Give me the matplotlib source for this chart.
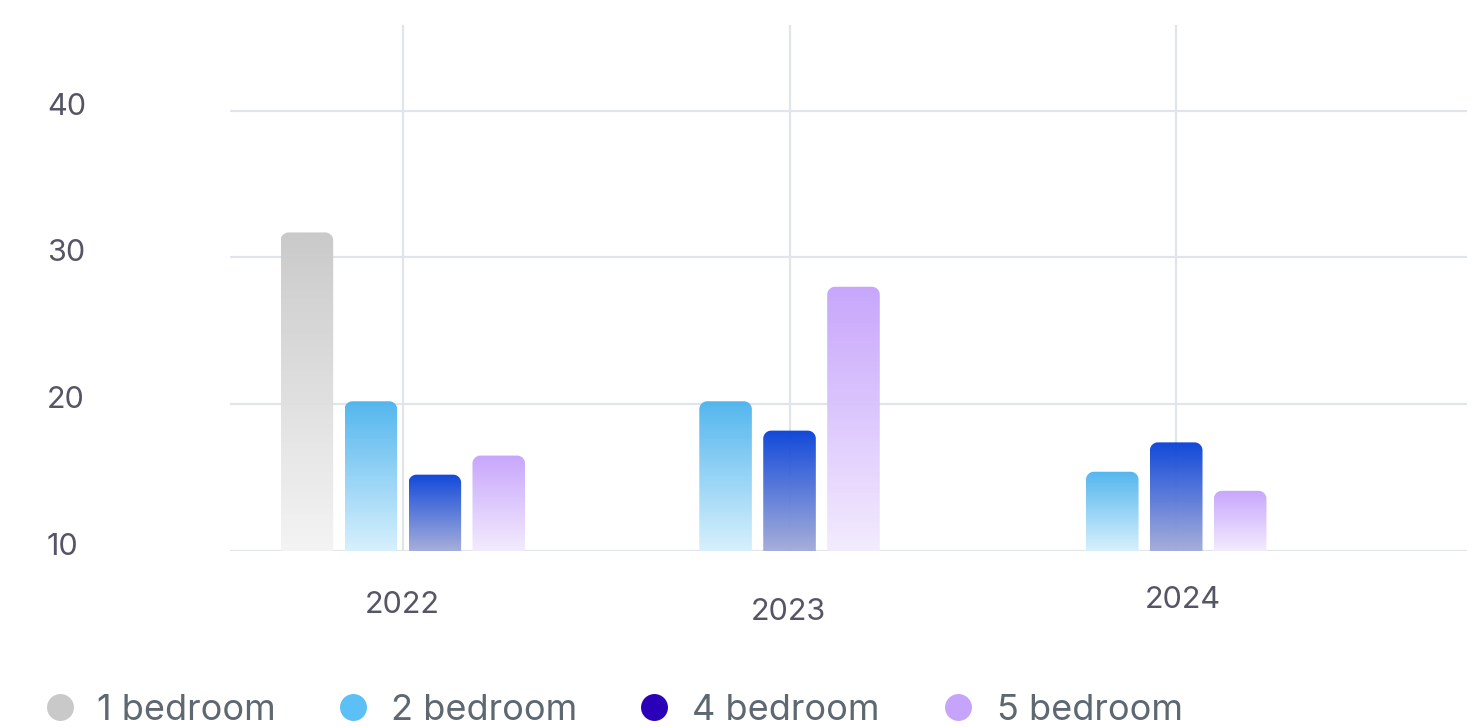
import numpy as np
import matplotlib
matplotlib.use("Agg")
import matplotlib.pyplot as plt
from matplotlib.path import Path
from matplotlib.patches import PathPatch
from matplotlib.transforms import offset_copy, blended_transform_factory
from matplotlib.colors import to_rgb

# ---------------- data ----------------
years = ["2022", "2023", "2024"]
series = ["1 bedroom", "2 bedroom", "4 bedroom", "5 bedroom"]
one_bedroom = [31.7, None, None]
two_bedroom = [20.2, 20.2, 15.4]
four_bedroom = [15.2, 18.2, 17.4]
five_bedroom = [16.5, 28.0, 14.1]
y_ticks = [10, 20, 30, 40]

values = [one_bedroom, two_bedroom, four_bedroom, five_bedroom]

# ---------------- style ----------------
legend_colors = ["#c9c9c9", "#5cbff5", "#2b00b9", "#c7a4fb"]
grad_top = ["#c8c8c8", "#4cb3ee", "#0741d8", "#c5a2fc"]
grad_bottom = ["#f4f4f4", "#d6f0fd", "#a3abd9", "#f3ebfe"]
label_color = "#555566"
legend_text_color = "#5d6870"
FONT = ["Inter", "DejaVu Sans"]

W, H = 1481, 727
fig = plt.figure(figsize=(W / 100, H / 100), dpi=100)
ax = fig.add_axes([230 / W, 1 - 551 / H, 1237 / W, 526 / H])
ax.set_xlim(-0.447, 2.752)
ax.set_ylim(10, 45.83)
for s in ax.spines.values():
    s.set_visible(False)
ax.set_xticks(range(len(years)))
ax.set_yticks(y_ticks)
ax.tick_params(length=0, labelleft=False, labelbottom=False)
ax.set_axisbelow(True)
ax.grid(True, color="#e1e4e8", linewidth=1.6)

bar_w = 0.136
step = 0.1654
px_x = 387.0      # pixels per x unit
px_y = 526 / (45.83 - 10)  # pixels per y unit
rx = 8 / px_x
ry = 8 / px_y
base = 10


def rounded_top_path(x0, x1, y0, y1):
    r_y = min(ry, (y1 - y0) / 2)
    pts = [(x0, y0)]
    t = np.linspace(np.pi, np.pi / 2, 12)
    cx, cy = x0 + rx, y1 - r_y
    pts += list(zip(cx + rx * np.cos(t), cy + r_y * np.sin(t)))
    t = np.linspace(np.pi / 2, 0, 12)
    cx = x1 - rx
    pts += list(zip(cx + rx * np.cos(t), cy + r_y * np.sin(t)))
    pts += [(x1, y0), (x0, y0)]
    codes = [Path.MOVETO] + [Path.LINETO] * (len(pts) - 2) + [Path.CLOSEPOLY]
    return Path(pts, codes)


for gi, yr in enumerate(years):
    present = [si for si in range(len(series)) if values[si][gi] is not None]
    n = len(present)
    for k, si in enumerate(present):
        v = values[si][gi]
        xc = gi + (k - (n - 1) / 2) * step
        x0, x1 = xc - bar_w / 2, xc + bar_w / 2
        ctop = np.array(to_rgb(grad_top[si]))
        cbot = np.array(to_rgb(grad_bottom[si]))
        f = np.linspace(0, 1, 256)[:, None]
        grad = (ctop[None, :] * (1 - f) + cbot[None, :] * f)[:, None, :]
        im = ax.imshow(grad, extent=[x0, x1, base, v], aspect="auto",
                       origin="upper", zorder=2, interpolation="bilinear",
                       alpha=0.96)
        patch = PathPatch(rounded_top_path(x0, x1, base, v), facecolor="none",
                          edgecolor="none", transform=ax.transData)
        ax.add_patch(patch)
        im.set_clip_path(patch)

ax.set_xlim(-0.447, 2.752)
ax.set_ylim(10, 45.83)

# y labels
ytrans = offset_copy(blended_transform_factory(fig.transFigure, ax.transData),
                     fig=fig, y=4, units="dots")
for t in y_ticks:
    ax.text(47 / W, t, str(t), transform=ytrans, ha="left", va="center",
            fontsize=22, color=label_color, family=FONT)

# x labels (slightly staggered like the reference)
x_offsets = [-1, -1, 7]
y_offsets = [-54, -61, -49]
for gi, yr in enumerate(years):
    tr = offset_copy(blended_transform_factory(ax.transData, ax.transAxes),
                     fig=fig, x=x_offsets[gi], y=y_offsets[gi], units="dots")
    ax.text(gi, 0, yr, transform=tr, ha="center", va="center", fontsize=22,
            color=label_color, family=FONT)

# legend
circle_x = [60, 353, 654, 958]
text_x = [97, 391, 692, 997]
for si, name in enumerate(series):
    fig.add_artist(plt.Line2D([circle_x[si] / W], [1 - 707 / H], marker="o",
                              markersize=19.4, markerfacecolor=legend_colors[si],
                              markeredgecolor="none", linestyle="none",
                              transform=fig.transFigure))
    fig.text(text_x[si] / W, 1 - 720 / H, name, ha="left", va="baseline",
             fontsize=26, color=legend_text_color, family=FONT)

fig.savefig("out.png", dpi=100)
